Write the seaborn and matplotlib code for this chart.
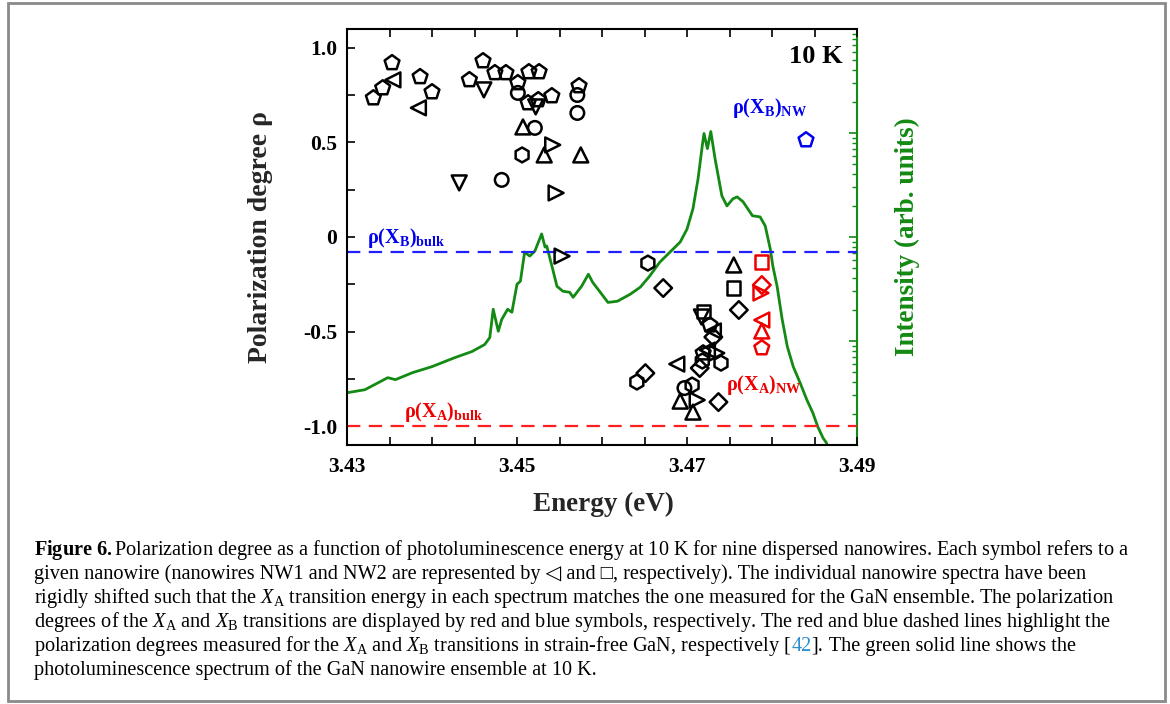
import matplotlib
matplotlib.use('Agg')
import matplotlib.pyplot as plt
import seaborn as sns
from matplotlib.patches import Rectangle
from matplotlib.ticker import FixedLocator, FixedFormatter, MultipleLocator, NullFormatter, LogLocator

sns.set_style('ticks')
plt.rcParams['font.family'] = ['Liberation Serif', 'DejaVu Sans']
plt.rcParams['mathtext.fontset'] = 'custom'
plt.rcParams['mathtext.rm'] = 'Liberation Serif'
plt.rcParams['mathtext.it'] = 'Liberation Serif:italic'
plt.rcParams['mathtext.bf'] = 'Liberation Serif:bold'
plt.rcParams['axes.unicode_minus'] = False

# ---------------- data ----------------
# photoluminescence spectrum of the ensemble (right, log axis)
pl_energy = [3.4300, 3.4321, 3.4348, 3.4357, 3.4377, 3.4400, 3.4427, 3.4447, 3.4462, 3.4468,
             3.4472, 3.4478, 3.4482, 3.4489, 3.4494, 3.4500, 3.4504, 3.4509, 3.4515, 3.4521,
             3.4529, 3.4533, 3.4535, 3.4542, 3.4547, 3.4554, 3.4562, 3.4566, 3.4576, 3.4584,
             3.4589, 3.4598, 3.4607, 3.4618, 3.4633, 3.4645, 3.4656, 3.4668, 3.4680, 3.4692,
             3.4700, 3.4707, 3.4713, 3.4718, 3.4720, 3.4724, 3.4728, 3.4733, 3.4741, 3.4747,
             3.4754, 3.4759, 3.4766, 3.4777, 3.4786, 3.4792, 3.4798, 3.4801, 3.4806, 3.4812,
             3.4818, 3.4825, 3.4833, 3.4841, 3.4848, 3.4854, 3.4860, 3.4864, 3.4868]
pl_intensity = [3.18, 3.40, 4.44, 4.25, 4.96, 5.67, 6.93, 7.92, 9.25, 10.8,
                20.2, 12.4, 16.1, 20.2, 18.9, 35.1, 37.6, 71.6, 65.5, 73.2,
                107, 80.0, 81.9, 49.1, 33.6, 30.1, 29.4, 26.3, 33.6, 43.9,
                36.7, 29.4, 23.5, 24.1, 28.1, 32.9, 42.0, 57.3, 71.6, 89.5,
                119, 187, 363, 757, 989, 708, 1033, 567, 249, 199,
                233, 243, 218, 160, 156, 128, 76.6, 52.5, 33.6, 16.1,
                8.85, 5.67, 3.97, 2.72, 2.04, 1.49, 1.17, 1.05, 0.85]

# polarization degree of individual nanowires
point_energy = [
    # pentagons
    3.4331, 3.4342, 3.4353, 3.4386, 3.4400, 3.4444, 3.4460, 3.4474, 3.4487, 3.4501,
    3.4514, 3.4526, 3.4513, 3.4525, 3.4541, 3.4573, 3.4727, 3.4719,
    # triangle left
    3.4354, 3.4384, 3.4724, 3.4731, 3.4688,
    # triangle down
    3.4461, 3.4432, 3.4522, 3.4717,
    # circles
    3.4501, 3.4571, 3.4571, 3.4521, 3.4482, 3.4697,
    # triangle up
    3.4507, 3.4532, 3.4575, 3.4755, 3.4692, 3.4707,
    # hexagons
    3.4506, 3.4654, 3.4718, 3.4740, 3.4641, 3.4706,
    # triangle right
    3.4542, 3.4546, 3.4553, 3.4735, 3.4712,
    # squares
    3.4755, 3.4719,
    # diamonds
    3.4672, 3.4761, 3.4731, 3.4715, 3.4651, 3.4737,
    # red (X_A) symbols
    3.4788, 3.4788, 3.4787, 3.4788, 3.4788, 3.4788,
    # blue (X_B) symbol
    3.4840]
point_rho = [
    0.735, 0.788, 0.921, 0.847, 0.767, 0.831, 0.931, 0.868, 0.868, 0.815,
    0.873, 0.873, 0.709, 0.725, 0.746, 0.799, -0.466, -0.614,
    0.831, 0.683, -0.598, -0.497, -0.672,
    0.778, 0.286, 0.688, -0.423,
    0.762, 0.751, 0.656, 0.577, 0.302, -0.799,
    0.582, 0.434, 0.434, -0.148, -0.868, -0.926,
    0.434, -0.138, -0.656, -0.667, -0.767, -0.783,
    0.487, 0.233, -0.101, -0.614, -0.862,
    -0.270, -0.392,
    -0.270, -0.386, -0.529, -0.693, -0.720, -0.873,
    -0.132, -0.254, -0.296, -0.439, -0.497, -0.587,
    0.513]
point_shape = (['pentagon'] * 18 + ['tri_left'] * 5 + ['tri_down'] * 4 + ['circle'] * 6 +
               ['tri_up'] * 6 + ['hexagon'] * 6 + ['tri_right'] * 5 + ['square'] * 2 +
               ['diamond'] * 6 +
               ['square', 'diamond', 'tri_right', 'tri_left', 'tri_up', 'pentagon'] +
               ['pentagon'])
point_group = (['other'] * 58 + ['XA'] * 6 + ['XB'])

rho_bulk_B = -0.08
rho_bulk_A = -1.0

# ---------------- styles ----------------
marker_map = {'pentagon': 'p', 'tri_left': '<', 'tri_down': 'v', 'circle': 'o',
              'tri_up': '^', 'hexagon': 'h', 'tri_right': '>', 'square': 's', 'diamond': 'D'}
size_map = {'pentagon': 125, 'tri_left': 115, 'tri_down': 115, 'circle': 95, 'tri_up': 115,
            'hexagon': 115, 'tri_right': 115, 'square': 90, 'diamond': 80}
color_map = {'other': 'black', 'XA': '#ee0000', 'XB': '#0000ee'}
GREEN = '#138a13'

W, H = 1170, 704
fig = plt.figure(figsize=(W / 100, H / 100), dpi=100)
fig.patch.set_facecolor('white')

# axes placement in pixels
left_px, right_px, top_px, bottom_px = 347, 857, 29, 445
ax = fig.add_axes([left_px / W, 1 - bottom_px / H, (right_px - left_px) / W, (bottom_px - top_px) / H])
ax.set_facecolor('none')

ax2 = ax.twinx()
ax2.set_yscale('log')
sns.lineplot(x=pl_energy, y=pl_intensity, ax=ax2, color=GREEN, lw=2.0,
             estimator=None, sort=False)
ax2.set_ylim(1, 1e4)

# dashed reference lines
ax.axhline(rho_bulk_B, color='#1f1fff', lw=1.6, ls=(0, (6, 3.8)), zorder=1)
ax.axhline(rho_bulk_A, color='#ff1f1f', lw=1.6, ls=(0, (6, 3.8)), zorder=1)

# markers
for shp in marker_map:
    for grp in color_map:
        xs = [e for e, s, g in zip(point_energy, point_shape, point_group) if s == shp and g == grp]
        ys = [r for r, s, g in zip(point_rho, point_shape, point_group) if s == shp and g == grp]
        if not xs:
            continue
        c = color_map[grp]
        sns.scatterplot(x=xs, y=ys, ax=ax, marker=marker_map[shp],
                        s=size_map[shp], color=c, facecolor='none', edgecolor=c,
                        linewidth=1.8, legend=False, zorder=3)

ax.set_xlim(3.43, 3.49)
ax.set_ylim(-1.1, 1.1)
ax.set_zorder(ax2.get_zorder() + 1)

# ticks
ax.xaxis.set_major_locator(FixedLocator([3.43, 3.45, 3.47, 3.49]))
ax.xaxis.set_major_formatter(FixedFormatter(['3.43', '3.45', '3.47', '3.49']))
ax.xaxis.set_minor_locator(MultipleLocator(0.005))
ax.yaxis.set_major_locator(FixedLocator([-1.0, -0.5, 0, 0.5, 1.0]))
ax.yaxis.set_major_formatter(FixedFormatter(['-1.0', '-0.5', '0', '0.5', '1.0']))
ax.yaxis.set_minor_locator(FixedLocator([-0.75, -0.25, 0.25, 0.75]))
ax.tick_params(axis='both', which='both', direction='in', length=6, width=1.2,
               top=True, right=False, colors='black')
ax.tick_params(axis='x', which='major', pad=9)
ax.tick_params(axis='y', which='major', pad=7)
for lab in ax.get_xticklabels() + ax.get_yticklabels():
    lab.set_fontsize(15.5)
    lab.set_fontweight('bold')
    lab.set_fontfamily('Liberation Serif')

ax2.yaxis.set_major_locator(LogLocator(base=10, numticks=10))
ax2.yaxis.set_minor_locator(LogLocator(base=10, subs=range(2, 10), numticks=20))
ax2.yaxis.set_major_formatter(NullFormatter())
ax2.yaxis.set_minor_formatter(NullFormatter())
ax2.tick_params(axis='y', which='major', direction='in', length=6, width=1.2, colors=GREEN)
ax2.tick_params(axis='y', which='minor', direction='in', length=3.5, width=1.0, colors=GREEN)

for sp in ['left', 'bottom', 'top']:
    ax.spines[sp].set_linewidth(1.5)
    ax.spines[sp].set_color('black')
    ax2.spines[sp].set_visible(False)
ax.spines['right'].set_visible(False)
ax2.spines['right'].set_color(GREEN)
ax2.spines['right'].set_linewidth(1.5)

# axis labels
ax.set_xlabel('Energy (eV)', fontsize=19.5, fontweight='bold')
ax.xaxis.set_label_coords(0.502, -0.113)
ax.set_ylabel('Polarization degree ρ', fontsize=20, fontweight='bold')
ax.yaxis.set_label_coords(-0.145, 0.5)
ax2.set_ylabel('Intensity (arb. units)', fontsize=19.5, fontweight='bold', color=GREEN)
ax2.yaxis.set_label_coords(1.0745, 0.5)

# annotations
ax.text(3.43235, -0.032, r'$\mathbf{ρ(X_{B})_{bulk}}$', color='#0000ee', fontsize=14.5,
        ha='left', va='baseline')
ax.text(3.43671, -0.952, r'$\mathbf{ρ(X_{A})_{bulk}}$', color='#ee0000', fontsize=14.5,
        ha='left', va='baseline')
ax.text(3.47459, -0.810, r'$\mathbf{ρ(X_{A})_{NW}}$', color='#ee0000', fontsize=14.5,
        ha='left', va='baseline')
ax.text(3.47529, 0.656, r'$\mathbf{ρ(X_{B})_{NW}}$', color='#0000ee', fontsize=14.5,
        ha='left', va='baseline')
ax.text(3.48835, 0.921, '10 K', color='black', fontsize=19, fontweight='bold',
        ha='right', va='baseline')

# outer frame
fig.patches.append(Rectangle((8 / W, 1 - 701 / H), (1165 - 8) / W, (701 - 3) / H,
                             transform=fig.transFigure, fill=False, edgecolor='#8a8a8a',
                             linewidth=2.0))

# caption
caption_lines = [
    [(r'$\mathbf{Figure\ 6.}$Polarization degree as a function of photoluminescence energy at 10 K for nine dispersed nanowires. Each symbol refers to a', 'black')],
    [('given nanowire (nanowires NW1 and NW2 are represented by ◁ and □, respectively). The individual nanowire spectra have been', 'black')],
    [(r'rigidly shifted such that the $X_{\rm A}$ transition energy in each spectrum matches the one measured for the GaN ensemble. The polarization', 'black')],
    [(r'degrees of the $X_{\rm A}$ and $X_{\rm B}$ transitions are displayed by red and blue symbols, respectively. The red and blue dashed lines highlight the', 'black')],
    [(r'polarization degrees measured for the $X_{\rm A}$ and $X_{\rm B}$ transitions in strain-free GaN, respectively [', 'black'),
     ('42', '#2a8fd0'), ('].', 'black'), (' The green solid line shows the', 'black')],
    [('photoluminescence spectrum of the GaN nanowire ensemble at 10 K.', 'black')],
]
cap_left, cap_base0, cap_step, cap_width = 34, 555, 24, 1100

fig.canvas.draw()
renderer = fig.canvas.get_renderer()
probe = fig.text(0, 0, caption_lines[0][0][0], fontsize=14, family=['Liberation Serif', 'DejaVu Sans'])
wpx = probe.get_window_extent(renderer).width
probe.remove()
cap_size = 14 * cap_width / wpx

for i, pieces in enumerate(caption_lines):
    x = cap_left
    y = 1 - (cap_base0 + i * cap_step) / H
    for txt, col in pieces:
        t = fig.text(x / W, y, txt, fontsize=cap_size, color=col, ha='left', va='baseline',
                     family=['Liberation Serif', 'DejaVu Sans'])
        x += t.get_window_extent(renderer).width

fig.savefig('out.png', dpi=100, facecolor='white')
